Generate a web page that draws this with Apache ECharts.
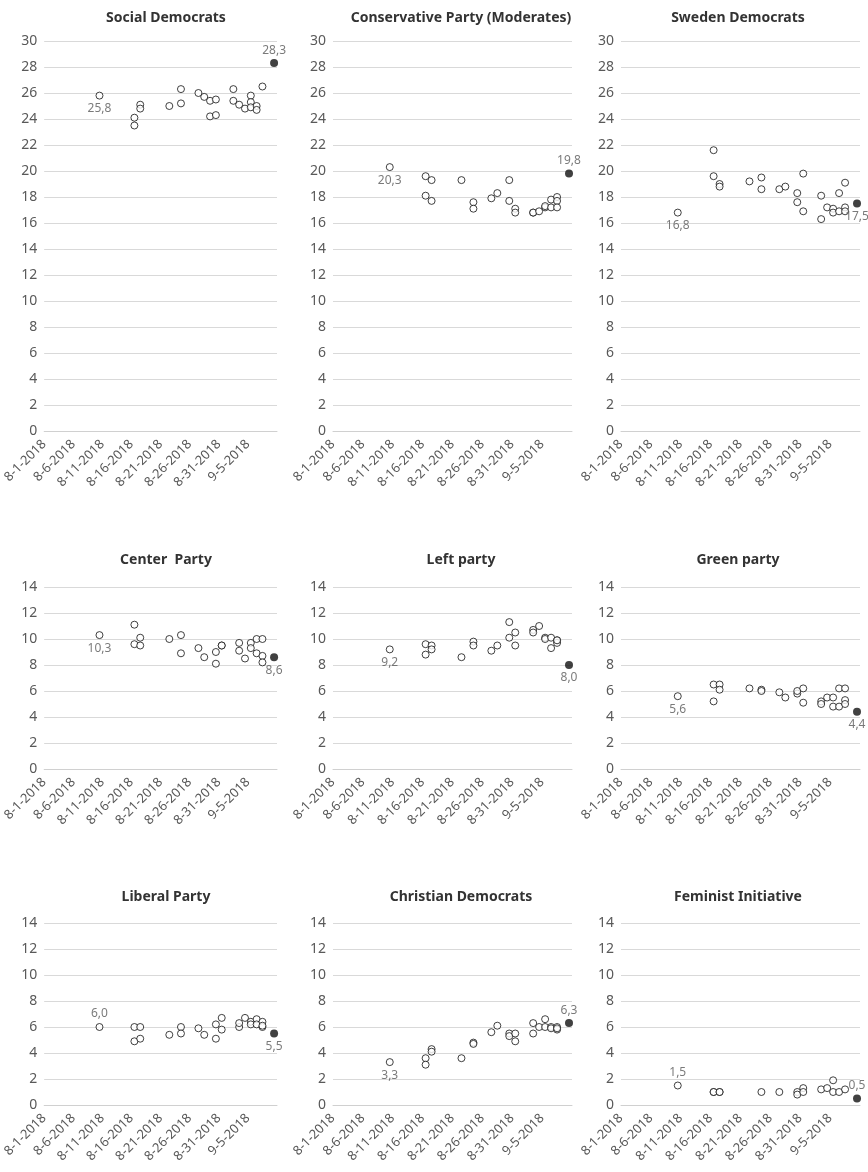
<!DOCTYPE html>
<html>
<head>
<meta charset="utf-8">
<script src="https://cdn.jsdelivr.net/npm/echarts@6/dist/echarts.min.js"></script>
<style>
  html, body { margin: 0; padding: 0; background: #fff; }
  #chart { width: 868px; height: 1172px; }
</style>
</head>
<body>
<div id="chart"></div>
<script>
// poll dates (month-day, 2018); several polls can share a day
const pollDates = ['8-10', '8-16', '8-16', '8-17', '8-17', '8-22', '8-24', '8-24', '8-27', '8-28',
  '8-30', '8-30', '8-31', '8-31', '9-3', '9-3', '9-4', '9-5', '9-5', '9-6', '9-6', '9-7', '9-7', '9-7'];
// the Social Democrats panel has its late polls a day earlier
const socialDemocratDates = ['8-10', '8-16', '8-16', '8-17', '8-17', '8-22', '8-24', '8-24', '8-27', '8-28',
  '8-29', '8-29', '8-30', '8-30', '9-2', '9-2', '9-3', '9-4', '9-5', '9-5', '9-5', '9-6', '9-6', '9-7'];
const electionDate = '9-9';
const tickLabels = ['8-1-2018', '8-6-2018', '8-11-2018', '8-16-2018', '8-21-2018', '8-26-2018', '8-31-2018', '9-5-2018'];

const parties = ['Social Democrats', 'Conservative Party (Moderates)', 'Sweden Democrats',
  'Center  Party', 'Left party', 'Green party',
  'Liberal Party', 'Christian Democrats', 'Feminist Initiative'];

const socialDemocrats = [25.8, 24.1, 23.5, 25.1, 24.8, 25.0, 26.3, 25.2, 26.0, 25.7,
  25.4, 24.2, 25.5, 24.3, 26.3, 25.4, 25.1, 24.8, 25.8, 25.3, 24.9, 25.0, 24.7, 26.5];
const moderates = [20.3, 19.6, 18.1, 19.3, 17.7, 19.3, 17.6, 17.1, 17.9, 18.3,
  19.3, 17.7, 17.1, 16.8, 16.8, 16.8, 16.9, 17.2, 17.3, 17.8, 17.2, 18.0, 17.7, 17.2];
const swedenDemocrats = [16.8, 21.6, 19.6, 19.0, 18.8, 19.2, 19.5, 18.6, 18.6, 18.8,
  18.3, 17.6, 19.8, 16.9, 18.1, 16.3, 17.2, 17.1, 16.8, 18.3, 16.9, 19.1, 17.2, 16.9];
const centerParty = [10.3, 11.1, 9.6, 10.1, 9.5, 10.0, 10.3, 8.9, 9.3, 8.6,
  9.0, 8.1, 9.5, 9.5, 9.7, 9.1, 8.5, 9.7, 9.3, 10.0, 8.9, 10.0, 8.7, 8.2];
const leftParty = [9.2, 9.6, 8.8, 9.5, 9.2, 8.6, 9.8, 9.5, 9.1, 9.5,
  11.3, 10.1, 10.5, 9.5, 10.7, 10.5, 11.0, 10.1, 10.0, 10.1, 9.3, 9.9, 9.7, 9.9];
const greenParty = [5.6, 6.5, 5.2, 6.5, 6.1, 6.2, 6.1, 6.0, 5.9, 5.5,
  5.8, 6.0, 6.2, 5.1, 5.2, 5.0, 5.5, 5.5, 4.8, 4.8, 6.2, 6.2, 5.3, 5.0];
const liberalParty = [6.0, 6.0, 4.9, 6.0, 5.1, 5.4, 6.0, 5.5, 5.9, 5.4,
  6.2, 5.1, 6.7, 5.8, 6.0, 6.3, 6.7, 6.4, 6.2, 6.6, 6.2, 6.4, 6.0, 6.1];
const christianDemocrats = [3.3, 3.6, 3.1, 4.3, 4.1, 3.6, 4.8, 4.7, 5.6, 6.1,
  5.5, 5.3, 5.5, 4.9, 6.3, 5.5, 6.0, 6.6, 6.0, 6.0, 5.9, 6.0, 5.8, 5.9];
const feministInitiative = [1.5, 1.0, 1.0, 1.0, 1.0, null, 1.0, null, 1.0, null,
  1.0, 0.8, 1.3, 1.0, 1.2, null, 1.3, 1.0, 1.9, 1.0, null, 1.2, null, null];

const pollValues = [socialDemocrats, moderates, swedenDemocrats, centerParty, leftParty,
  greenParty, liberalParty, christianDemocrats, feministInitiative];
const electionResult = [28.3, 19.8, 17.5, 8.6, 8.0, 4.4, 5.5, 6.3, 0.5];
const yMax = [30, 30, 30, 14, 14, 14, 14, 14, 14];

// where the two data labels sit
const firstLabelPos = ['bottom', 'bottom', 'bottom', 'bottom', 'bottom', 'bottom', 'top', 'bottom', 'top'];
const resultLabelPos = ['top', 'top', 'bottom', 'bottom', 'bottom', 'bottom', 'bottom', 'top', 'top'];

// panel placement
const colLeft = [38, 333, 621];
const titleX = [161, 456, 733];
const rowTop = [41, 587, 923];
const rowHeight = [390, 182, 182];
const titleY = [6, 548, 885];
const plotWidth = 239;

const FONT = 'Noto Sans';
const GRAY = '#595959';

// days since 8-1; points sit in the middle of their day, like an Excel date axis
function dayIndex(d) {
  const [m, day] = d.split('-').map(Number);
  return (m === 8 ? day - 1 : 31 + day - 1) + 0.5;
}
const comma = v => v.toFixed(1).replace('.', ',');

const chart = echarts.init(document.getElementById('chart'), null, { renderer: 'canvas' });
const grid = [], xAxis = [], yAxis = [], series = [], title = [];

parties.forEach((name, i) => {
  const r = Math.floor(i / 3), c = i % 3;
  const dates = i === 0 ? socialDemocratDates : pollDates;
  grid.push({ left: colLeft[c], top: rowTop[r], width: plotWidth, height: rowHeight[r] });
  title.push({
    text: name, left: titleX[c], top: titleY[r], textAlign: 'center',
    textStyle: { fontFamily: FONT, fontSize: 14, fontWeight: 'bold', color: '#333' }
  });
  xAxis.push({
    type: 'value', gridIndex: i, min: 0, max: 40, interval: 5,
    axisLine: { show: true, lineStyle: { color: '#d0d0d0', width: 1 } },
    axisTick: { show: false },
    splitLine: { show: false },
    axisLabel: {
      rotate: 45, margin: 11, color: GRAY, fontFamily: FONT, fontSize: 13,
      showMaxLabel: false,
      formatter: v => tickLabels[v / 5] || ''
    }
  });
  yAxis.push({
    type: 'value', gridIndex: i, min: 0, max: yMax[i], interval: 2,
    axisLine: { show: false }, axisTick: { show: false },
    splitLine: { lineStyle: { color: '#d9d9d9', width: 1 } },
    axisLabel: { margin: 7, color: GRAY, fontFamily: FONT, fontSize: 14 }
  });

  const labelStyle = pos => ({
    show: true, position: pos, distance: 3, color: GRAY, fontFamily: FONT, fontSize: 12,
    formatter: p => comma(p.value[1])
  });
  const polls = [];
  dates.forEach((d, k) => {
    const v = pollValues[i][k];
    if (v === null) return;
    const item = { value: [dayIndex(d), v] };
    if (k === 0) item.label = labelStyle(firstLabelPos[i]);
    polls.push(item);
  });
  series.push({
    type: 'scatter', xAxisIndex: i, yAxisIndex: i, symbol: 'circle', symbolSize: 7,
    itemStyle: { color: '#fff', borderColor: '#111', borderWidth: 1 },
    data: polls, silent: true
  });
  series.push({
    type: 'scatter', xAxisIndex: i, yAxisIndex: i, symbol: 'circle', symbolSize: 8,
    itemStyle: { color: '#111' },
    label: labelStyle(resultLabelPos[i]),
    data: [[dayIndex(electionDate), electionResult[i]]], silent: true
  });
});

chart.setOption({ animation: false, title, grid, xAxis, yAxis, series });
</script>
</body>
</html>
